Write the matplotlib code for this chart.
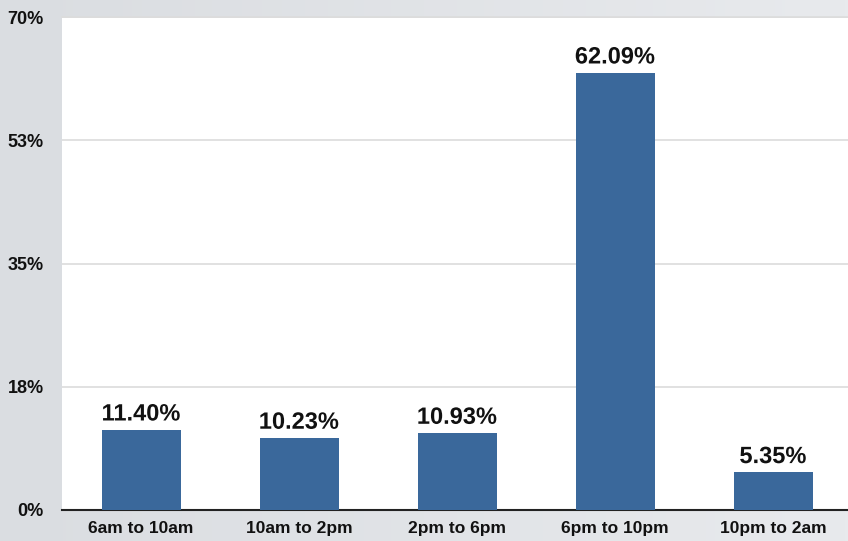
import numpy as np
import matplotlib.pyplot as plt
import matplotlib.patheffects as pe

# Дані
categories = ['6am to 10am', '10am to 2pm', '2pm to 6pm', '6pm to 10pm', '10pm to 2am']
values = [11.40, 10.23, 10.93, 62.09, 5.35]
tick_values = [0, 17.5, 35, 52.5, 70]
tick_labels = ['0%', '18%', '35%', '53%', '70%']

plt.rcParams['font.family'] = ['Liberation Sans', 'DejaVu Sans']

fig = plt.figure(figsize=(8.48, 5.41), dpi=100)

# Фон з легким градієнтом
bg = fig.add_axes([0, 0, 1, 1], zorder=-10)
grad = np.linspace(0, 1, 256).reshape(1, -1)
bg.imshow(grad, aspect='auto', cmap=plt.matplotlib.colors.LinearSegmentedColormap.from_list(
    'bg', ['#dadde1', '#e8eaed']), extent=[0, 1, 0, 1])
bg.axis('off')

ax = fig.add_axes([62 / 848, (541 - 510) / 541, 790 / 848, 493 / 541])
ax.set_facecolor('white')

x = np.arange(len(categories))
bars = ax.bar(x, values, width=0.5, color='#3a689b', zorder=3)

for xi, v in zip(x, values):
    ax.text(xi, v + 0.6, f'{v:.2f}%', ha='center', va='bottom', fontsize=17,
            fontweight='bold', color='#111111', zorder=4,
            path_effects=[pe.withStroke(linewidth=3, foreground='white')])

ax.set_xlim(-0.5, 4.5)
ax.set_ylim(0, 70)
ax.set_yticks(tick_values)
ax.set_yticklabels(tick_labels, fontsize=13, fontweight='bold', color='#111111')
ax.set_xticks(x)
ax.set_xticklabels(categories, fontsize=12.5, fontweight='bold', color='#111111')
ax.tick_params(axis='y', length=0, pad=13)
ax.tick_params(axis='x', length=0, pad=8)

ax.yaxis.grid(True, color='#dcdcdc', linewidth=1.2, zorder=0)
ax.set_axisbelow(True)

for side in ['left', 'right']:
    ax.spines[side].set_visible(False)
ax.spines['top'].set_color('#dcdcdc')
ax.spines['top'].set_linewidth(1.2)
ax.spines['bottom'].set_color('#222222')
ax.spines['bottom'].set_linewidth(1.5)

fig.savefig('out.png', dpi=100)
